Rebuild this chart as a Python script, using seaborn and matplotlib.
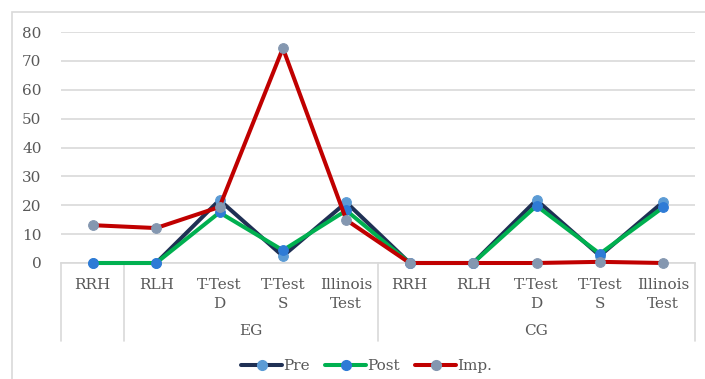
import numpy as np
import pandas as pd
import matplotlib
matplotlib.use("Agg")
import matplotlib.pyplot as plt
import seaborn as sns
from matplotlib.lines import Line2D
from matplotlib.patches import Rectangle

# Data
tests = ["RRH", "RLH", "T-Test\nD", "T-Test\nS", "Illinois\nTest",
         "RRH", "RLH", "T-Test\nD", "T-Test\nS", "Illinois\nTest"]
groups = ["", "EG", "EG", "EG", "EG", "CG", "CG", "CG", "CG", "CG"]
pre = [0, 0, 21.8, 2.4, 21.0, 0, 0, 21.8, 2.5, 21.2]
post = [0, 0, 17.5, 4.4, 18.2, 0, 0, 19.8, 3.2, 19.3]
imp = [13.1, 12.1, 19.4, 74.4, 14.9, 0, 0, 0, 0.4, 0]
series = ["Pre", "Post", "Imp."]

LINE_COLORS = {"Pre": "#1F3054", "Post": "#00B050", "Imp.": "#C00000"}
MARKER_COLORS = {"Pre": "#5B9BD5", "Post": "#2E7BD6", "Imp.": "#8497B0"}
TEXT = "#595959"
GRID = "#D9D9D9"
FS = 11

sns.set_theme(style="white")
plt.rcParams["font.family"] = ["DejaVu Serif"]

pos = np.arange(len(tests))
df = pd.DataFrame({
    "x": np.tile(pos, 3),
    "value": pre + post + imp,
    "series": np.repeat(series, len(tests)),
})

fig = plt.figure(figsize=(7.05, 3.79), dpi=100)
ax = fig.add_axes([61 / 705, 1 - 263 / 379, (695 - 61) / 705, (263 - 32) / 379])

sns.lineplot(data=df, x="x", y="value", hue="series", hue_order=series,
             palette=LINE_COLORS, marker="o", markersize=7, linewidth=2.9,
             ax=ax, legend=False, zorder=3)

for line, name in zip(ax.get_lines(), series):
    line.set_markerfacecolor(MARKER_COLORS[name])
    line.set_markeredgecolor(MARKER_COLORS[name])
    line.set_clip_on(False)

ax.set_xlim(-0.5, len(tests) - 0.5)
ax.set_ylim(0, 80)
ax.set_yticks(range(0, 81, 10))
ax.yaxis.grid(True, color=GRID, linewidth=1.2)
ax.set_axisbelow(True)
for s in ["top", "right", "left"]:
    ax.spines[s].set_visible(False)
ax.spines["bottom"].set_color(GRID)
ax.spines["bottom"].set_linewidth(1.2)
ax.set_xlabel("")
ax.set_ylabel("")
ax.tick_params(axis="y", length=0, pad=14, labelsize=FS, labelcolor=TEXT)
ax.set_xticks(pos)
ax.set_xticklabels(tests, fontsize=FS, color=TEXT, linespacing=1.4)
ax.tick_params(axis="x", length=0, pad=11)

# multi-level category box
trans = ax.get_xaxis_transform()
box_bottom = -(341 - 263) / (263 - 32)
for xb in [-0.5, 0.5, 4.5, 9.5]:
    ax.plot([xb, xb], [0, box_bottom], transform=trans, color=GRID,
            linewidth=1.2, clip_on=False)
for g in ["EG", "CG"]:
    idx = [i for i, gg in enumerate(groups) if gg == g]
    ax.text(np.mean(idx), -(331 - 263) / (263 - 32), g, transform=trans,
            ha="center", va="center", fontsize=FS, color=TEXT)

# chart border
fig.patches.append(Rectangle((12 / 705, -0.1), 1.2, 1 - 12 / 379 + 0.1,
                             transform=fig.transFigure, fill=False,
                             edgecolor=GRID, linewidth=1.2))

handles = [Line2D([], [], color=LINE_COLORS[n], linewidth=2.9, marker="o",
                  markersize=7, markerfacecolor=MARKER_COLORS[n],
                  markeredgecolor=MARKER_COLORS[n]) for n in series]
leg = fig.legend(handles, series, loc="center", bbox_to_anchor=(0.52, 1 - 366 / 379),
                 ncol=3, frameon=False, fontsize=FS, handlelength=2.7,
                 handletextpad=0.05, columnspacing=1.0)
for t in leg.get_texts():
    t.set_color(TEXT)

fig.savefig("out.png", dpi=100)
